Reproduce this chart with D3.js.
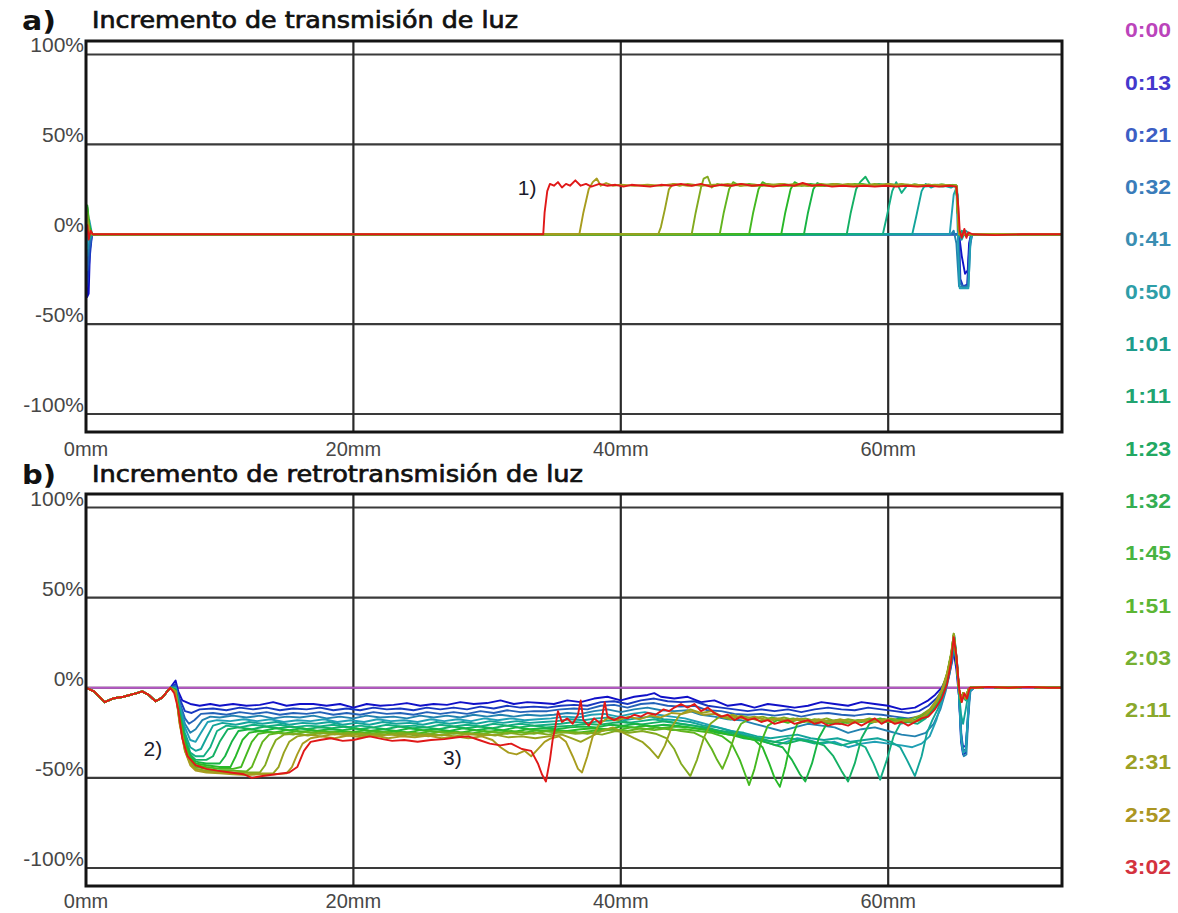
<!DOCTYPE html>
<html><head><meta charset="utf-8">
<script src="https://cdn.jsdelivr.net/npm/d3@7"></script>
<style>body{margin:0;background:#fff}</style>
</head><body><svg id="c" width="1178" height="913"></svg>
<script>
// ---------------- DATA ----------------
const times = ["0:00","0:13","0:21","0:32","0:41","0:50","1:01","1:11","1:23","1:32","1:45","1:51","2:03","2:11","2:31","2:52","3:02"];
const legendColors = ["#bb44bb","#4438cc","#3c5ec4","#3a7cba","#3a8eb2","#2e9ea8","#1e9c8c","#22a470","#22a862","#34ae52","#48b442","#5cb634","#76b032","#8aa82c","#9ca024","#ac9622","#d4323e"];
const lineColors   = ["#b656c6","#1010c8","#1838c0","#2462b8","#2282b0","#20a0b4","#12a49a","#12ae84","#14b064","#18b444","#28b828","#44b820","#62b41e","#82aa1e","#98a21e","#a89c1e","#e01818"];
const xTicks = [0,20,40,60];
const xTickLabels = ["0mm","20mm","40mm","60mm"];
const yTicks = [100,50,0,-50,-100];
const yTickLabels = ["100%","50%","0%","-50%","-100%"];

// a) light transmission increment  [mm, %]
const tr000 = [[0,0],[73,0]];
const tr013 = [[0,0],[0.08,-35],[0.2,-33],[0.3,-8],[0.45,0],[65.3,0],[65.5,-12],[65.75,-22],[65.95,-20],[66.05,-5],[66.2,0],[73,0]];
const tr021 = [[0,0],[0.1,-28],[0.25,-15],[0.45,0],[65.3,0],[65.4,-25],[65.6,-29],[65.9,-28],[66.05,-10],[66.2,0],[73,0]];
const tr032 = [[0,0],[0.1,-20],[0.25,-8],[0.45,0],[65.25,0],[65.35,-27],[65.6,-29],[65.95,-29],[66.1,-8],[66.25,0],[73,0]];
const tr041 = [[0,0],[0.1,-12],[0.25,-4],[0.45,0],[64.7,0],[64.9,2],[65.1,-5],[65.3,-29],[65.7,-29.5],[66.0,-29],[66.15,-5],[66.3,0],[73,0]];
const tr050 = [[0,0],[0.1,-8],[0.25,8],[0.45,0],[64.6,0],[64.9,22],[65.1,26],[65.25,-10],[65.35,-30],[65.7,-30],[66.0,-30],[66.15,-3],[66.3,0],[73,0]];
const tr101 = [[0,0],[0.1,5],[0.25,-3],[0.45,0],[61.8,0],[62.1,10],[62.5,24],[62.8,28],[63.2,26],[63.7,27.5],[64.2,27],[64.7,26],[65.0,27],[65.2,22],[65.3,0],[65.5,-3],[65.8,2],[66.1,0],[73,0]];
const tr111 = [[0,0],[0.1,8],[0.25,0],[0.45,0],[59.6,0],[59.9,10],[60.3,24],[60.6,29],[61.0,23],[61.4,27],[62.0,27.5],[62.7,26.5],[63.4,27],[64.1,26.5],[64.8,27.5],[65.15,26],[65.3,0],[65.5,2],[65.8,-1],[66.1,0],[73,0]];
const tr123 = [[0,0],[0.1,12],[0.25,2],[0.45,0],[56.9,0],[57.2,12],[57.6,25],[57.9,29],[58.3,32],[58.7,27],[59.3,28],[60,27],[61,27.5],[62,27],[63,27.5],[64,27],[65.1,27],[65.3,0],[66.1,0],[73,0]];
const tr132 = [[0,0],[0.1,15],[0.25,4],[0.45,0],[53.7,0],[54.0,12],[54.4,25],[54.7,28.5],[55.2,27],[56,28],[57,27],[58,27.5],[59,27],[60,28],[61,27],[62,27.5],[63,27],[64,27.5],[65.1,27],[65.3,0],[66.1,0],[73,0]];
const tr145 = [[0,0],[0.1,16],[0.25,5],[0.45,0],[52.0,0],[52.3,12],[52.7,25],[53.0,29],[53.5,27],[54.2,28],[55,27],[56,27.5],[57,27],[58,28],[59,27],[60,27.5],[61,27],[62,27.5],[63,27],[64,27.5],[65.1,27],[65.3,0],[66.1,0],[73,0]];
const tr151 = [[0,0],[0.1,14],[0.25,3],[0.45,0],[49.6,0],[49.9,12],[50.3,25],[50.6,29],[51.1,27],[52,28],[53,27],[54,27.5],[55,27],[56,28],[57,27],[58,27.5],[59,27],[60,27.5],[61,27],[62,27.5],[63,27],[64,27.5],[65.1,27],[65.3,0],[66.1,0],[73,0]];
const tr203 = [[0,0],[0.1,12],[0.25,2],[0.45,0],[47.4,0],[47.7,12],[48.1,25],[48.4,29],[48.9,27],[49.6,28],[50.5,27],[51.5,27.5],[52.5,27],[53.5,28],[54.5,27],[55.5,27.5],[56.5,27],[57.5,28],[58.5,27],[59.5,27.5],[60.5,27],[61.5,27.5],[62.5,27],[63.5,27.5],[64.5,27],[65.1,27],[65.3,0],[66.1,0],[73,0]];
const tr211 = [[0,0],[0.1,10],[0.25,2],[0.45,0],[45.3,0],[45.6,12],[46.0,26],[46.2,31],[46.5,32],[46.8,26],[47.2,28],[48,27],[49,27.5],[50,27],[51,28],[52,27],[53,27.5],[54,27],[55,28],[56,27],[57,27.5],[58,27],[59,28],[60,27],[61,27.5],[62,27],[63,27.5],[64,27],[65.1,27],[65.3,0],[66.1,0],[73,0]];
const tr231 = [[0,0],[0.1,8],[0.25,1],[0.45,0],[42.8,0],[43.0,4],[43.3,14],[43.6,25],[43.9,28],[44.4,27],[45,28],[46,27],[47,27.5],[48,27],[49,28],[50,27],[51,27.5],[52,27],[53,28],[54,27],[55,27.5],[56,27],[57,28],[58,27],[59,27.5],[60,27],[61,28],[62,27],[63,27.5],[64,27],[65.1,27],[65.3,0],[66.1,0],[73,0]];
const tr252 = [[0,0],[0.1,6],[0.25,1],[0.45,0],[36.9,0],[37.2,12],[37.6,25],[37.9,29],[38.2,31],[38.5,27],[38.9,28.5],[39.4,27],[40,27.5],[41,27],[42,27.5],[43,27],[44,28],[45,27],[46,27.5],[47,27],[48,28],[49,27],[50,27.5],[51,27],[52,28],[53,27],[54,27.5],[55,27],[56,28],[57,27],[58,27.5],[59,27],[60,28],[61,27],[62,27.5],[63,27],[64,27.5],[65.1,27],[65.3,0],[66.1,0],[73,0]];
const tr302 = [[0,0],[0.1,5],[0.2,-3],[0.35,2],[0.5,0],[34.2,0],[34.3,12],[34.5,24],[34.7,28],[35.0,27],[35.3,29],[35.6,26],[35.9,28],[36.2,27],[36.6,30],[37.0,27],[37.4,28],[37.8,26.5],[38.4,28],[39.0,27],[39.6,27.5],[40.2,26.5],[40.8,27.5],[41.5,27],[42.2,26.5],[43.0,27.5],[43.8,27],[44.5,28],[45.3,27],[46.0,28],[46.7,26.5],[47.5,27.5],[48.3,27],[49.0,28],[49.8,27],[50.6,27.5],[51.4,26.5],[52.2,27.5],[53.0,27],[53.6,28.5],[54.3,27],[55.0,27.5],[55.8,26.5],[56.6,27],[57.4,26.5],[58.2,27],[59.0,26.5],[59.8,27],[60.6,26.5],[61.4,27],[62.2,26.5],[63.0,27],[63.8,26.5],[64.6,27],[65.1,26.5],[65.25,15],[65.35,2],[65.5,-2],[65.7,3],[65.85,-2],[66.0,1],[66.3,0],[68,-0.5],[70,0],[73,0]];

// b) light backscattering increment  [mm, %]
const bsEdge = [[0,0],[0.6,-2],[1.4,-8],[2.0,-6],[2.8,-5],[3.8,-3],[4.2,-2],[4.7,-4],[5.2,-7.5],[5.7,-5.5],[6.3,0]];
const bsTail = [[66.4,0],[67.5,0.5],[69,0],[70.5,0.5],[72,0],[73,0]];
const bs000 = [[0,0],[73,0]];
const bs013 = [[6.7,4],[6.9,-2],[7.2,-7],[7.8,-9],[8.5,-10],[9.3,-9],[10,-10],[11,-9],[12,-10],[13,-9.5],[14,-8],[15,-10],[16,-9],[17,-9],[18,-10],[19,-9],[20,-11],[21,-9],[22,-10],[23,-9.5],[24,-8.5],[25,-10],[26,-9],[27,-9.5],[28,-8],[29,-9],[30,-8.5],[31,-7],[32,-9],[33,-8],[34,-8.5],[35,-9],[36,-7],[37,-8],[38,-6],[39,-5],[40,-7],[41,-5],[42,-4],[42.5,-3],[43,-5],[44,-6],[45,-5],[46,-8],[47,-7],[48,-10],[49,-9],[50,-11],[51,-9],[52,-10],[53,-11],[54,-10],[55,-8],[56,-9],[57,-10],[58,-8],[59,-9],[60,-10],[61,-12],[62,-11],[62.5,-9],[63,-7],[63.5,-4],[64,0],[64.4,6],[64.7,14],[64.9,20],[65.1,10],[65.3,-5],[65.45,-30],[65.6,-37],[65.8,-36],[65.95,-20],[66.1,-2]];
const bs021 = [[6.7,2],[7.0,-6],[7.4,-13],[7.9,-14],[8.5,-12],[9.5,-11.5],[10.5,-12.5],[11.5,-11],[12.5,-12],[13.5,-11],[14.5,-12.5],[15.5,-11.5],[16.5,-12],[17.5,-11],[18.5,-12.5],[19.5,-11.5],[20.5,-12.5],[21.5,-11],[22.5,-12],[23.5,-11.5],[24.5,-12.5],[25.5,-11],[26.5,-12],[27.5,-11],[28.5,-12],[29.5,-10.5],[30.5,-11.5],[31.5,-10],[32.5,-11],[33.5,-10.5],[34.5,-11],[35.5,-10],[36.5,-9.5],[37.5,-10],[38.5,-8],[39.5,-7.5],[40.5,-9],[41.5,-7],[42.5,-6],[43.5,-7.5],[44.5,-8],[45.5,-7.5],[46.5,-10],[47.5,-11],[48.5,-12],[49.5,-13],[50.5,-12],[51.5,-13],[52.5,-12],[53.5,-13.5],[54.5,-12],[55.5,-11],[56.5,-12],[57.5,-12.5],[58.5,-11],[59.5,-12],[60.5,-13],[61.5,-14],[62.3,-13],[63,-10],[63.6,-6],[64.1,-1],[64.5,6],[64.8,16],[64.95,22],[65.15,12],[65.3,-5],[65.45,-25],[65.6,-33],[65.8,-32],[65.95,-18],[66.1,-2]];
const bs032 = [[6.7,1],[7.0,-8],[7.4,-17],[7.7,-20],[8.1,-18],[8.6,-14.5],[9.5,-14],[10.5,-15],[11.5,-13.5],[12.5,-14.5],[13.5,-13.5],[14.5,-15],[15.5,-14],[16.5,-14.5],[17.5,-13.5],[18.5,-15],[19.5,-14],[20.5,-15],[21.5,-13.5],[22.5,-14.5],[23.5,-14],[24.5,-15],[25.5,-13.5],[26.5,-14.5],[27.5,-13.5],[28.5,-14.5],[29.5,-13],[30.5,-14],[31.5,-12.5],[32.5,-13.5],[33.5,-13],[34.5,-13],[35.5,-12],[36.5,-11.5],[37.5,-12],[38.5,-10],[39.5,-9.5],[40.5,-11],[41.5,-9],[42.5,-8.5],[43.5,-10],[44.5,-10.5],[45.5,-10],[46.5,-12.5],[47.5,-13],[48.5,-14.5],[49.5,-15],[50.5,-14.5],[51.5,-15.5],[52.5,-14.5],[53.5,-16],[54.5,-14.5],[55.5,-14],[56.5,-15],[57.5,-15.5],[58.5,-14.5],[59.5,-15],[60.5,-16],[61.5,-17],[62.3,-16],[63,-13],[63.6,-9],[64.1,-3],[64.5,5],[64.8,15],[64.95,22],[65.15,12],[65.3,-5],[65.45,-26],[65.6,-35],[65.8,-34],[65.95,-18],[66.1,-2]];
const bs041 = [[6.7,0],[7.0,-9],[7.4,-20],[7.8,-25],[8.2,-23],[8.7,-18],[9.3,-16],[10,-16.5],[11,-15.5],[12,-16.5],[13,-15.5],[14,-17],[15,-16],[16,-16.5],[17,-15.5],[18,-17],[19,-16],[20,-17],[21,-15.5],[22,-16.5],[23,-16],[24,-17],[25,-15.5],[26,-16.5],[27,-15.5],[28,-16.5],[29,-15],[30,-16],[31,-15],[32,-16],[33,-15],[34,-15.5],[35,-15],[36,-14],[37,-14.5],[38,-13],[39,-12],[40,-13.5],[41,-12],[42,-11],[43,-12.5],[44,-13],[45,-12.5],[46,-15],[47,-16],[48,-17.5],[49,-18],[50,-20],[51,-22],[52,-24],[53,-22],[54,-20],[55,-21],[56,-22],[57,-25],[58,-23],[59,-22],[60,-24],[61,-26],[62,-27],[62.8,-25],[63.4,-20],[63.9,-12],[64.3,-2],[64.6,8],[64.85,20],[65.0,24],[65.2,10],[65.35,-8],[65.5,-30],[65.65,-38],[65.85,-37],[66.0,-15],[66.15,-2]];
const bs050 = [[6.7,0],[7.0,-10],[7.4,-22],[7.8,-29],[8.2,-30],[8.6,-25],[9.1,-19],[9.8,-18],[10.8,-18.5],[11.8,-17.5],[12.8,-18.5],[13.8,-17.5],[14.8,-19],[15.8,-18],[16.8,-18.5],[17.8,-17.5],[18.8,-19],[19.8,-18],[20.8,-19],[21.8,-17.5],[22.8,-18.5],[23.8,-18],[24.8,-19],[25.8,-17.5],[26.8,-18.5],[27.8,-17.5],[28.8,-18.5],[29.8,-17],[30.8,-18],[31.8,-17],[32.8,-18],[33.8,-17.5],[34.8,-17],[35.8,-16],[36.8,-16.5],[37.8,-15],[38.8,-14.5],[39.8,-16],[40.8,-14.5],[41.8,-13.5],[42.8,-15],[43.8,-16],[44.8,-17],[45.8,-19],[46.8,-21],[47.8,-23],[48.8,-25],[49.8,-27],[50.8,-30],[51.6,-32],[52.4,-30],[53.2,-28],[54,-29],[55,-31],[56,-30],[57,-33],[58,-31],[59,-30],[60,-31],[61,-32],[61.8,-33],[62.5,-31],[63.1,-27],[63.6,-18],[64.0,-8],[64.4,3],[64.7,15],[64.9,25],[65.1,15],[65.3,-5],[65.45,-28],[65.6,-36],[65.8,-35],[65.95,-16],[66.1,-2]];
const bs101 = [[6.7,-1],[7.0,-12],[7.4,-25],[7.8,-33],[8.2,-35],[8.6,-34],[9.0,-28],[9.5,-21],[10.2,-19.5],[11.2,-20.5],[12.2,-19],[13.2,-20],[14.2,-19],[15.2,-20.5],[16.2,-19.5],[17.2,-20],[18.2,-19],[19.2,-20.5],[20.2,-19.5],[21.2,-20.5],[22.2,-19],[23.2,-20],[24.2,-19.5],[25.2,-20.5],[26.2,-19],[27.2,-20],[28.2,-19],[29.2,-20],[30.2,-18.5],[31.2,-19.5],[32.2,-18.5],[33.2,-19.5],[34.2,-19],[35.2,-18.5],[36.2,-17.5],[37.2,-18],[38.2,-17],[39.2,-16.5],[40.2,-18],[41.2,-17],[42.2,-16],[43.2,-17.5],[44.2,-18],[45.2,-19],[46.2,-21],[47.2,-22],[48.2,-24],[49.2,-25],[50.2,-27],[51.2,-28],[52.2,-27],[53.2,-26],[54.2,-28],[55.2,-29],[56.2,-28],[57.2,-30],[58.2,-29],[59.2,-28],[60.2,-30],[60.9,-33],[61.4,-40],[62.0,-49],[62.5,-38],[62.9,-25],[63.3,-18],[63.7,-12],[64.1,-4],[64.5,6],[64.75,18],[64.95,28],[65.15,14],[65.3,-3],[65.45,-15],[65.6,-20],[65.8,-12],[66.0,-3],[66.15,0]];
const bs111 = [[6.7,-1],[7.0,-13],[7.4,-27],[7.8,-36],[8.2,-38],[8.8,-38],[9.3,-33],[9.8,-24],[10.5,-21],[11.5,-22],[12.5,-20.5],[13.5,-21.5],[14.5,-20.5],[15.5,-22],[16.5,-21],[17.5,-21.5],[18.5,-20.5],[19.5,-22],[20.5,-21],[21.5,-22],[22.5,-20.5],[23.5,-21.5],[24.5,-21],[25.5,-22],[26.5,-20.5],[27.5,-21.5],[28.5,-20.5],[29.5,-21.5],[30.5,-20],[31.5,-21],[32.5,-20],[33.5,-21],[34.5,-20.5],[35.5,-20],[36.5,-19],[37.5,-19.5],[38.5,-18.5],[39.5,-18],[40.5,-19.5],[41.5,-18.5],[42.5,-17.5],[43.5,-19],[44.5,-20],[45.5,-21],[46.5,-23],[47.5,-24],[48.5,-26],[49.5,-27],[50.5,-29],[51.5,-30],[52.5,-28],[53.5,-29],[54.5,-31],[55.5,-30],[56.5,-32],[57.5,-30],[58.3,-33],[58.9,-42],[59.4,-51],[59.9,-40],[60.4,-27],[60.9,-20],[61.5,-19],[62.2,-20],[62.8,-17],[63.3,-13],[63.8,-7],[64.2,0],[64.55,10],[64.8,20],[64.95,29],[65.15,14],[65.3,-2],[65.45,-8],[65.6,-5],[65.8,-7],[66.0,-2],[66.15,0]];
const bs123 = [[6.7,-1],[7.0,-14],[7.4,-29],[7.8,-37],[8.2,-40],[9.0,-40],[9.5,-38],[10.0,-30],[10.6,-23],[11.4,-22],[12.4,-23],[13.4,-21.5],[14.4,-22.5],[15.4,-21.5],[16.4,-23],[17.4,-22],[18.4,-22.5],[19.4,-21.5],[20.4,-23],[21.4,-22],[22.4,-23],[23.4,-21.5],[24.4,-22.5],[25.4,-22],[26.4,-23],[27.4,-21.5],[28.4,-22.5],[29.4,-21.5],[30.4,-22.5],[31.4,-21],[32.4,-22],[33.4,-21],[34.4,-22],[35.4,-21.5],[36.4,-21],[37.4,-20],[38.4,-20.5],[39.4,-19.5],[40.4,-19],[41.4,-20.5],[42.4,-19.5],[43.4,-18.5],[44.4,-20],[45.4,-21],[46.4,-22],[47.4,-24],[48.4,-25],[49.4,-27],[50.4,-28],[51.4,-30],[52.4,-31],[53.4,-29],[54.4,-30],[55.2,-32],[55.9,-38],[56.5,-46],[57.0,-52],[57.5,-42],[58.0,-28],[58.6,-20],[59.3,-18],[60.0,-19],[60.8,-17],[61.6,-19],[62.4,-18],[63.0,-15],[63.5,-11],[64.0,-4],[64.4,5],[64.7,16],[64.9,27],[65.1,15],[65.3,-2],[65.45,-6],[65.6,-3],[65.8,-6],[66.0,-1],[66.15,0]];
const bs132 = [[6.7,-1],[7.0,-15],[7.4,-30],[7.8,-38],[8.2,-41],[9.0,-42],[10.0,-42],[10.4,-38],[10.9,-30],[11.4,-24],[12.2,-23],[13.2,-24],[14.2,-22.5],[15.2,-23.5],[16.2,-22.5],[17.2,-24],[18.2,-23],[19.2,-23.5],[20.2,-22.5],[21.2,-24],[22.2,-23],[23.2,-24],[24.2,-22.5],[25.2,-23.5],[26.2,-23],[27.2,-24],[28.2,-22.5],[29.2,-23.5],[30.2,-22.5],[31.2,-23.5],[32.2,-22],[33.2,-23],[34.2,-22.5],[35.2,-23],[36.2,-22],[37.2,-21.5],[38.2,-22],[39.2,-20.5],[40.2,-21],[41.2,-20],[42.2,-21.5],[43.2,-20.5],[44.2,-21],[45.2,-22],[46.2,-23],[47.2,-25],[48.2,-26],[49.2,-28],[50.2,-29],[51.2,-31],[52.1,-33],[52.8,-40],[53.4,-48],[53.8,-52],[54.3,-42],[54.8,-28],[55.4,-20],[56.2,-18],[57,-19.5],[57.8,-18],[58.6,-19],[59.4,-17],[60.2,-18.5],[61,-17],[61.8,-18.5],[62.5,-16],[63.1,-13],[63.6,-8],[64.0,-2],[64.4,7],[64.7,18],[64.9,28],[65.1,16],[65.3,-1],[65.45,-7],[65.6,-3],[65.8,-6],[66.0,-1],[66.15,0]];
const bs145 = [[6.7,-2],[7.0,-16],[7.4,-31],[7.8,-39],[8.2,-42],[9.0,-43],[10.0,-44],[10.8,-44],[11.2,-38],[11.7,-29],[12.2,-25],[13.0,-24],[14.0,-25],[15.0,-23.5],[16.0,-24.5],[17.0,-23.5],[18.0,-25],[19.0,-24],[20.0,-24.5],[21.0,-23.5],[22.0,-25],[23.0,-24],[24.0,-25],[25.0,-23.5],[26.0,-24.5],[27.0,-24],[28.0,-25],[29.0,-23.5],[30.0,-24.5],[31.0,-23.5],[32.0,-24.5],[33.0,-23],[34.0,-24],[35.0,-23.5],[36.0,-24],[37.0,-23],[38.0,-22.5],[39.0,-23],[40.0,-21.5],[41.0,-22],[42.0,-21],[43.0,-22.5],[44.0,-21.5],[45.0,-22],[46.0,-23],[47.0,-24],[48.0,-26],[49.0,-27],[50.0,-29],[50.6,-33],[51.1,-42],[51.5,-50],[51.9,-55],[52.3,-44],[52.7,-30],[53.2,-20],[54.0,-18],[54.8,-19.5],[55.6,-18],[56.4,-20],[57.2,-18.5],[58.0,-19],[58.8,-17.5],[59.6,-19],[60.4,-17.5],[61.2,-19],[62.0,-18],[62.6,-16],[63.2,-12],[63.7,-7],[64.1,0],[64.45,8],[64.75,19],[64.9,29],[65.1,16],[65.3,-1],[65.45,-7],[65.6,-3],[65.8,-6],[66.0,-1],[66.15,0]];
const bs151 = [[6.7,-2],[7.0,-17],[7.4,-32],[7.8,-40],[8.2,-43],[9.0,-44],[10.0,-45],[11.0,-45],[11.6,-44],[12.0,-37],[12.4,-30],[12.9,-25.5],[13.8,-24.5],[14.8,-25.5],[15.8,-24],[16.8,-25],[17.8,-24],[18.8,-25.5],[19.8,-24.5],[20.8,-25],[21.8,-24],[22.8,-25.5],[23.8,-24.5],[24.8,-25.5],[25.8,-24],[26.8,-25],[27.8,-24.5],[28.8,-25.5],[29.8,-24],[30.8,-25],[31.8,-24],[32.8,-25],[33.8,-23.5],[34.8,-24.5],[35.8,-24],[36.8,-25],[37.8,-24],[38.8,-23],[39.8,-23.5],[40.8,-22],[41.8,-23],[42.8,-22],[43.8,-23.5],[44.8,-23],[45.8,-24],[46.8,-25],[47.6,-27],[48.3,-31],[48.9,-40],[49.3,-48],[49.6,-54],[50.0,-45],[50.5,-30],[51.0,-21],[51.7,-18],[52.5,-19.5],[53.3,-17.5],[54.1,-19],[54.9,-18],[55.7,-20],[56.5,-18.5],[57.3,-19.5],[58.1,-18],[58.9,-19],[59.7,-17.5],[60.5,-19],[61.3,-17.5],[62.1,-18.5],[62.7,-16],[63.2,-12],[63.7,-7],[64.1,0],[64.45,9],[64.75,20],[64.9,30],[65.1,17],[65.3,-1],[65.45,-8],[65.6,-3],[65.8,-6],[66.0,-1],[66.15,0]];
const bs203 = [[6.7,-2],[7.0,-18],[7.4,-33],[7.8,-41],[8.2,-44],[9.0,-45],[10.0,-46],[11.0,-46],[12.0,-46.5],[12.4,-44],[12.8,-37],[13.2,-30],[13.7,-26],[14.5,-25],[15.5,-26],[16.5,-24.5],[17.5,-25.5],[18.5,-24.5],[19.5,-26],[20.5,-25],[21.5,-25.5],[22.5,-24.5],[23.5,-26],[24.5,-25],[25.5,-26],[26.5,-24.5],[27.5,-25.5],[28.5,-25],[29.5,-26],[30.5,-24.5],[31.5,-25.5],[32.5,-24.5],[33.5,-25.5],[34.5,-24],[35.5,-25],[36.5,-24.5],[37.5,-25.5],[38.5,-24],[39.5,-23],[40.5,-24],[41.5,-22.5],[42.5,-23.5],[43.5,-22.5],[44.5,-24],[45.5,-25],[46.3,-28],[46.8,-34],[47.2,-40],[47.6,-45],[48.0,-38],[48.5,-27],[49.0,-20],[49.7,-17],[50.5,-18.5],[51.3,-16.5],[52.1,-18],[52.9,-17],[53.7,-19],[54.5,-17.5],[55.3,-19],[56.1,-18],[56.9,-19.5],[57.7,-18],[58.5,-19],[59.3,-17.5],[60.1,-19],[60.9,-18],[61.7,-19],[62.4,-17],[63.0,-14],[63.5,-9],[64.0,-2],[64.4,7],[64.7,18],[64.9,29],[65.1,16],[65.3,-1],[65.45,-7],[65.6,-3],[65.8,-6],[66.0,-1],[66.15,0]];
const bs211 = [[6.7,-2],[7.0,-19],[7.4,-34],[7.8,-42],[8.2,-45],[9.0,-46],[10.0,-46.5],[11.0,-47],[12.0,-47],[13.0,-47],[13.4,-43],[13.8,-35],[14.2,-29],[14.8,-26],[15.6,-25.5],[16.6,-26.5],[17.6,-25],[18.6,-26],[19.6,-25],[20.6,-26.5],[21.6,-25.5],[22.6,-26],[23.6,-25],[24.6,-26.5],[25.6,-25.5],[26.6,-26.5],[27.6,-25],[28.6,-26],[29.6,-25.5],[30.6,-26.5],[31.6,-25],[32.6,-26],[33.6,-25],[34.6,-26],[35.6,-24.5],[36.6,-25.5],[37.6,-25],[38.6,-26],[39.6,-24],[40.6,-25],[41.6,-24],[42.6,-25.5],[43.4,-28],[44.0,-34],[44.5,-42],[45.2,-49],[45.7,-40],[46.2,-28],[46.7,-20],[47.4,-16],[48.2,-17.5],[49.0,-15.5],[49.8,-17],[50.6,-16],[51.4,-18],[52.2,-16.5],[53.0,-18],[53.8,-17],[54.6,-18.5],[55.4,-17],[56.2,-19],[57.0,-17.5],[57.8,-18.5],[58.6,-17],[59.4,-18.5],[60.2,-17],[61.0,-18.5],[61.8,-17],[62.5,-15],[63.1,-12],[63.6,-7],[64.0,-1],[64.4,8],[64.7,19],[64.9,29],[65.1,16],[65.3,-1],[65.45,-7],[65.6,-3],[65.8,-6],[66.0,-1],[66.15,0]];
const bs231 = [[6.7,-2],[7.0,-19],[7.4,-35],[7.8,-42],[8.2,-45],[9.0,-46.5],[10.0,-47],[11.0,-47.5],[12.0,-48],[13.0,-47.5],[14.0,-47.5],[14.4,-44],[14.8,-36],[15.2,-30],[15.8,-27],[16.6,-26],[17.6,-27],[18.6,-25.5],[19.6,-26.5],[20.6,-25.5],[21.6,-27],[22.6,-26],[23.6,-26.5],[24.6,-25.5],[25.6,-27],[26.6,-26],[27.6,-27],[28.6,-25.5],[29.6,-26.5],[30.6,-26],[31.6,-27.5],[32.6,-27],[33.6,-28],[34.6,-27],[35.6,-26],[36.3,-28],[37.0,-30],[37.8,-27],[38.6,-24],[39.4,-22],[40.2,-25],[41.0,-28],[41.6,-30],[42.2,-34],[42.8,-39],[43.3,-32],[43.8,-22],[44.4,-15],[45.2,-12],[46.0,-14],[46.8,-13],[47.6,-16],[48.4,-15],[49.2,-17],[50.0,-16],[50.8,-18],[51.6,-17],[52.4,-18.5],[53.2,-17],[54.0,-18.5],[54.8,-17.5],[55.6,-19],[56.4,-17.5],[57.2,-19],[58.0,-18],[58.8,-19],[59.6,-17.5],[60.4,-19],[61.2,-18],[62.0,-18.5],[62.6,-16],[63.2,-12],[63.7,-7],[64.1,0],[64.45,9],[64.75,20],[64.9,30],[65.1,17],[65.3,-1],[65.45,-7],[65.6,-3],[65.8,-6],[66.0,-1],[66.15,0]];
const bs252 = [[6.7,-2],[7.0,-20],[7.4,-35],[7.8,-43],[8.2,-46],[9.0,-47],[10.0,-47.5],[11.0,-48],[12.0,-48.5],[13.0,-48],[14.0,-48],[15.0,-47.5],[15.4,-44],[15.8,-37],[16.2,-31],[16.8,-28],[17.6,-27],[18.6,-28],[19.6,-26.5],[20.6,-27.5],[21.6,-26.5],[22.6,-28],[23.6,-27],[24.6,-27.5],[25.6,-26.5],[26.6,-28],[27.6,-27],[28.6,-28],[29.6,-27],[30.4,-29],[31.0,-33],[31.6,-36],[32.2,-37],[32.8,-35],[33.3,-38],[33.8,-34],[34.3,-30],[34.8,-28],[35.4,-27],[35.9,-30],[36.4,-38],[36.8,-45],[37.1,-47],[37.5,-38],[37.9,-27],[38.4,-20],[39.0,-17],[39.8,-18],[40.6,-16],[41.4,-17.5],[42.2,-15.5],[43.0,-16.5],[43.8,-14],[44.6,-14.5],[45.4,-13],[46.2,-15],[47.0,-14.5],[47.8,-16.5],[48.6,-16],[49.4,-17.5],[50.2,-16.5],[51.0,-18],[51.8,-17],[52.6,-18.5],[53.4,-17.5],[54.2,-19],[55.0,-18],[55.8,-19],[56.6,-18],[57.4,-19.5],[58.2,-18],[59.0,-19],[59.8,-18],[60.6,-19.5],[61.4,-18],[62.2,-18.5],[62.8,-15],[63.3,-11],[63.8,-5],[64.2,2],[64.55,11],[64.8,21],[64.9,29],[65.1,16],[65.3,-1],[65.45,-7],[65.6,-3],[65.8,-6],[66.0,-1],[66.15,0]];
const bs302 = [[6.6,-3],[6.9,-12],[7.2,-28],[7.6,-38],[8.2,-43],[9.0,-45],[9.8,-46],[10.8,-47],[11.8,-48],[12.4,-50],[13.2,-49],[14.2,-48],[15.2,-47],[15.8,-44],[16.3,-35],[16.8,-30],[17.5,-29],[18.3,-28],[19.2,-29.5],[20.0,-29],[21.2,-27],[22.2,-28.5],[22.9,-29.5],[23.8,-29],[24.8,-30],[25.8,-29],[26.8,-28.5],[27.8,-27.5],[28.6,-27],[29.4,-29],[30.2,-31],[31.0,-32],[31.8,-31],[32.6,-34],[33.3,-35],[33.8,-42],[34.1,-48],[34.4,-52],[34.7,-40],[34.9,-29],[35.1,-22],[35.3,-13],[35.6,-19],[36.0,-17],[36.4,-20],[36.8,-15],[37.0,-7],[37.2,-18],[37.6,-21],[38.0,-17],[38.5,-20],[38.8,-8],[39.0,-16],[39.5,-18],[40.0,-16],[40.5,-17],[41.0,-15],[41.5,-16],[42.0,-14],[42.6,-15],[43.2,-12],[43.6,-13],[44.0,-11],[44.5,-9],[45.0,-11],[45.5,-9],[46.0,-13],[46.5,-11],[47.0,-14],[47.5,-16],[48.0,-15],[48.5,-18],[49.0,-16],[49.5,-18],[50.0,-17],[50.5,-19],[51.0,-18],[51.5,-20],[52.0,-19],[52.5,-18],[53.0,-20],[53.5,-19],[54.0,-18],[54.5,-20],[55.0,-19],[55.5,-21],[56.0,-20],[56.5,-20],[57.0,-21],[57.5,-19],[58.0,-21],[58.5,-19],[59.0,-17],[59.5,-20],[60.0,-18],[60.5,-20],[61.0,-19],[61.5,-21],[62.0,-19],[62.5,-17],[63.0,-16],[63.5,-12],[64.0,-6],[64.4,2],[64.7,14],[64.9,28],[65.1,18],[65.3,0],[65.5,-8],[65.7,-3],[65.9,-6],[66.1,0]];

const transmission = [tr000,tr013,tr021,tr032,tr041,tr050,tr101,tr111,tr123,tr132,tr145,tr151,tr203,tr211,tr231,tr252,tr302];
const backRest = [bs013,bs021,bs032,bs041,bs050,bs101,bs111,bs123,bs132,bs145,bs151,bs203,bs211,bs231,bs252,bs302];
const backscatter = [bs000].concat(backRest.map(r => bsEdge.concat(r, bsTail)));

// ---------------- DRAW ----------------
const svg = d3.select("#c");
const X0 = 86, X1 = 1062;
const x = d3.scaleLinear().domain([0,73]).range([X0, X1]);

const panels = [
  {top:41, bottom:432, letter:"a)", title:"Incremento de transmisión de luz", titleW:426, ty:28, series:transmission, xly:456,
   notes:[{t:"1)", mm:33.0, v:26}]},
  {top:494, bottom:886, letter:"b)", title:"Incremento de retrotransmisión de luz", titleW:491, ty:482, series:backscatter, xly:908,
   notes:[{t:"2)", mm:5.0, v:-34},{t:"3)", mm:27.4, v:-39}]}
];

panels.forEach((p, pi) => {
  const y = d3.scaleLinear().domain([-110, 107.5]).range([p.bottom, p.top]);
  const g = svg.append("g");
  g.selectAll(".hg").data(yTicks).join("line")
    .attr("x1", X0).attr("x2", X1).attr("y1", d => y(d)).attr("y2", d => y(d))
    .attr("stroke", "#3a3a3a").attr("stroke-width", 2.2);
  g.selectAll(".vg").data(xTicks.slice(1)).join("line")
    .attr("x1", d => x(d)).attr("x2", d => x(d)).attr("y1", p.top).attr("y2", p.bottom)
    .attr("stroke", "#2a2a2a").attr("stroke-width", 2.2);
  const cid = "clip" + pi;
  svg.append("clipPath").attr("id", cid).append("rect")
    .attr("x", X0).attr("y", p.top).attr("width", X1 - X0).attr("height", p.bottom - p.top);
  const line = d3.line().x(d => x(d[0])).y(d => y(d[1]));
  const lg = svg.append("g").attr("clip-path", `url(#${cid})`);
  p.series.forEach((s, i) => {
    lg.append("path").attr("d", line(s)).attr("fill", "none")
      .attr("stroke", lineColors[i]).attr("stroke-width", 1.9).attr("stroke-linejoin", "round");
  });
  svg.append("rect").attr("x", X0).attr("y", p.top).attr("width", X1 - X0).attr("height", p.bottom - p.top)
    .attr("fill", "none").attr("stroke", "#141414").attr("stroke-width", 3);
  svg.selectAll(null).data(yTicks).join("text")
    .attr("x", 84).attr("y", d => y(d) - 2)
    .attr("text-anchor", "end").attr("font-family", "Liberation Sans, Arial, sans-serif")
    .attr("font-size", 21).attr("fill", "#474747")
    .text((d, i) => yTickLabels[i]);
  svg.selectAll(null).data(xTicks).join("text")
    .attr("x", d => x(d)).attr("y", p.xly)
    .attr("text-anchor", "middle").attr("font-family", "Liberation Sans, Arial, sans-serif")
    .attr("font-size", 20).attr("fill", "#474747")
    .text((d, i) => xTickLabels[i]);
  svg.append("text").attr("x", 22).attr("y", p.ty + 2)
    .attr("font-family", "DejaVu Sans, sans-serif").attr("font-weight", "bold").attr("font-size", 26)
    .attr("textLength", 34).attr("lengthAdjust", "spacingAndGlyphs").attr("fill", "#111").text(p.letter);
  svg.append("text").attr("x", 92).attr("y", p.ty)
    .attr("font-family", "DejaVu Sans, sans-serif").attr("font-size", 22.5)
    .attr("textLength", p.titleW).attr("lengthAdjust", "spacingAndGlyphs")
    .attr("fill", "#111").attr("stroke", "#111").attr("stroke-width", 0.7).text(p.title);
  p.notes.forEach(n => {
    svg.append("text").attr("x", x(n.mm)).attr("y", y(n.v)).attr("dy", "0.35em")
      .attr("text-anchor", "middle").attr("font-family", "Liberation Sans, Arial, sans-serif")
      .attr("font-size", 21).attr("fill", "#1a1a2a").text(n.t);
  });
});

svg.selectAll(".lg").data(times).join("text")
  .attr("x", 1148).attr("y", (d, i) => 30 + i * 52.3).attr("dy", "0.36em")
  .attr("text-anchor", "middle").attr("font-family", "Liberation Sans, Arial, sans-serif")
  .attr("font-weight", "bold").attr("font-size", 20)
  .attr("textLength", 46).attr("lengthAdjust", "spacingAndGlyphs")
  .attr("fill", (d, i) => legendColors[i]).text(d => d);
</script></body></html>
